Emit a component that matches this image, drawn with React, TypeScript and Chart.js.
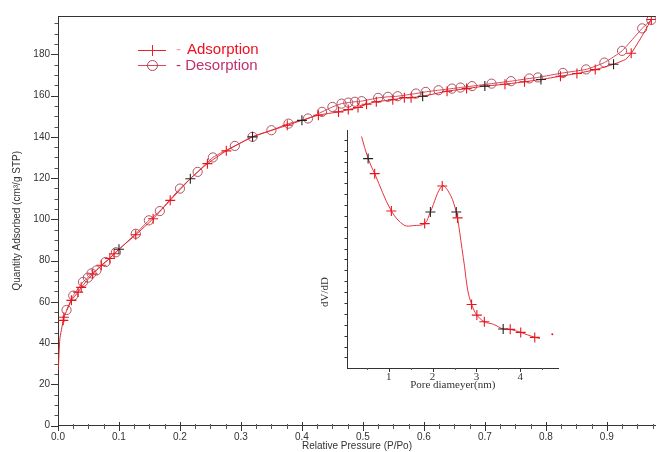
import React, { useEffect, useRef } from "react";
import { Chart, registerables } from "chart.js";
Chart.register(...registerables);

// ---- Main isotherm data ----
const adsX = [0.0005, 0.003, 0.0086, 0.0097, 0.022, 0.033, 0.038, 0.057, 0.071, 0.085, 0.092, 0.1, 0.1275, 0.156, 0.184, 0.217, 0.245, 0.276, 0.319, 0.376, 0.4, 0.427, 0.46, 0.476, 0.492, 0.506, 0.522, 0.549, 0.568, 0.579, 0.598, 0.638, 0.67, 0.7, 0.733, 0.765, 0.792, 0.824, 0.851, 0.881, 0.911, 0.931, 0.94, 0.957, 0.973];
const adsY = [27, 42, 51, 52.5, 60.7, 64.7, 67, 73.5, 77.7, 81, 83.3, 85.5, 92.5, 100.3, 109.2, 119.7, 127, 133.2, 140, 145.6, 148, 150.5, 152.1, 153.2, 154.2, 155.8, 157, 158, 159, 159, 159.7, 162.1, 163.4, 164.6, 165.5, 166.7, 167.8, 169.4, 170.7, 172.6, 175.2, 177.6, 180.5, 188.5, 196.9];
const adsBlack = [0.1, 0.217, 0.319, 0.4, 0.598, 0.7, 0.792, 0.911];
const adsNoMarker = [0.0005, 0.003, 0.931, 0.957];

const desX = [0.973, 0.958, 0.925, 0.896, 0.866, 0.828, 0.787, 0.773, 0.743, 0.711, 0.679, 0.66, 0.646, 0.624, 0.603, 0.587, 0.557, 0.541, 0.525, 0.498, 0.487, 0.476, 0.465, 0.45, 0.433, 0.41, 0.378, 0.35, 0.319, 0.29, 0.254, 0.229, 0.2, 0.167, 0.149, 0.1275, 0.095, 0.078, 0.063, 0.055, 0.049, 0.041, 0.025, 0.014];
const desY = [196.7, 192.6, 181.7, 176, 172.7, 171, 168.8, 168.3, 167, 165.8, 164.6, 163.9, 163.4, 162.6, 161.8, 161, 159.7, 159.4, 158.9, 157.3, 157, 156.6, 156.1, 154.5, 152.1, 148.9, 146.4, 143.2, 140, 135.6, 130, 123, 114.9, 104, 99.5, 93, 84, 79.3, 75.2, 73.8, 71.7, 69.6, 63, 56];

const mainXTicks = [0, 0.1, 0.2, 0.3, 0.4, 0.5, 0.6, 0.7, 0.8, 0.9];
const mainYTicks = [0, 20, 40, 60, 80, 100, 120, 140, 160, 180];

// ---- Inset pore-size distribution data ----
const poreX = [0.38, 0.53, 0.68, 1.06, 1.35, 1.57, 1.82, 1.95, 2.22, 2.41, 2.54, 2.57, 2.67, 2.73, 2.8, 2.89, 3.01, 3.18, 3.39, 3.61, 3.77, 4.01, 4.33, 4.45];
const poreY = [21.3, 19.27, 17.89, 14.46, 13.15, 13.12, 13.3, 14.37, 16.76, 15.9, 14.37, 13.82, 11.01, 9.33, 7.19, 5.87, 4.89, 4.28, 4.04, 3.61, 3.58, 3.3, 2.84, 2.75];
const poreMark = [0, 1, 2, 2, 0, 0, 2, 1, 2, 0, 1, 2, 0, 0, 0, 2, 2, 2, 0, 1, 2, 2, 2, 0];
const poreDotX = [4.73];
const poreDotY = [3.12];
const insetXTicks = [1, 2, 3, 4];

const SANS = "'Liberation Sans', Arial, Helvetica, sans-serif";
const SERIF = "'Liberation Serif', 'Times New Roman', serif";

function drawTicks(chart: any, scaleId: string, values: number[], inner: number, outer: number, color: string) {
  const ctx = chart.ctx;
  const scale = chart.scales[scaleId];
  ctx.save();
  ctx.strokeStyle = color;
  ctx.lineWidth = 1;
  for (const v of values) {
    const p = Math.round(scale.getPixelForValue(v)) + 0.5;
    ctx.beginPath();
    if (scale.isHorizontal()) {
      const y = Math.round(scale.top);
      ctx.moveTo(p, y - inner);
      ctx.lineTo(p, y + outer);
    } else {
      const x = Math.round(scale.right);
      ctx.moveTo(x - outer, p);
      ctx.lineTo(x + inner, p);
    }
    ctx.stroke();
  }
  ctx.restore();
}

export default function App() {
  const mainRef = useRef<HTMLCanvasElement>(null);
  const insetRef = useRef<HTMLCanvasElement>(null);

  useEffect(() => {
    const adsColors = adsX.map((x) => (adsBlack.includes(x) ? "#222" : "#e8141c"));
    const adsRadius = adsX.map((x) => (adsNoMarker.includes(x) ? 0 : 5));
    const xMinor: number[] = [];
    for (let i = 0; i <= 39; i++) {
      if (i % 4 !== 0) xMinor.push(i * 0.025);
    }
    const yMinor: number[] = [];
    for (let i = 0; i <= 39; i++) {
      if (i % 4 !== 0) yMinor.push(i * 5);
    }

    const mainPlugin = {
      id: "mainDecor",
      afterDraw(chart: any) {
        const ctx = chart.ctx;
        const a = chart.chartArea;
        ctx.save();
        ctx.strokeStyle = "#333";
        ctx.lineWidth = 1;
        ctx.beginPath();
        ctx.moveTo(a.left, Math.round(a.top) + 0.5);
        ctx.lineTo(a.right, Math.round(a.top) + 0.5);
        ctx.stroke();
        ctx.restore();
        drawTicks(chart, "x", mainXTicks, 4, 5, "#333");
        drawTicks(chart, "x", xMinor, 2, 3, "#555");
        drawTicks(chart, "y", mainYTicks, 0, 7, "#333");
        drawTicks(chart, "y", yMinor, 0, 3.5, "#555");
        // legend
        ctx.save();
        const ds0 = chart.data.datasets[0];
        const ds1 = chart.data.datasets[1];
        ctx.lineWidth = 1;
        ctx.strokeStyle = ds0.borderColor;
        ctx.beginPath();
        ctx.moveTo(138, 50.5);
        ctx.lineTo(166, 50.5);
        ctx.stroke();
        ctx.beginPath();
        ctx.moveTo(152.5, 45);
        ctx.lineTo(152.5, 56);
        ctx.stroke();
        ctx.strokeStyle = ds1.borderColor;
        ctx.beginPath();
        ctx.moveTo(138, 65.5);
        ctx.lineTo(166, 65.5);
        ctx.stroke();
        ctx.strokeStyle = "#a84a5a";
        ctx.beginPath();
        ctx.arc(152.5, 65.5, 5, 0, Math.PI * 2);
        ctx.stroke();
        ctx.font = "15px " + SANS;
        ctx.textBaseline = "middle";
        ctx.fillStyle = "#f2a0a4";
        ctx.fillText("-", 176, 50);
        ctx.fillStyle = "#ee1020";
        ctx.fillText(ds0.label, 187, 50);
        ctx.fillStyle = "#c0306a";
        ctx.fillText("- " + ds1.label, 176, 65.5);
        ctx.restore();
      },
    };

    const main = new Chart(mainRef.current!, {
      type: "scatter",
      data: {
        datasets: [
          {
            label: "Adsorption",
            data: adsX.map((x, i) => ({ x, y: adsY[i] })),
            showLine: true,
            borderColor: "#e3262e",
            borderWidth: 1,
            tension: 0.15,
            pointStyle: "cross",
            pointRadius: adsRadius,
            pointBorderWidth: 1.1,
            pointBorderColor: adsColors,
            pointBackgroundColor: adsColors,
          },
          {
            label: "Desorption",
            data: desX.map((x, i) => ({ x, y: desY[i] })),
            showLine: true,
            borderColor: "#d9475a",
            borderWidth: 1,
            tension: 0.15,
            pointStyle: "circle",
            pointRadius: 4.6,
            pointBorderWidth: 1,
            pointBorderColor: "#b05262",
            pointBackgroundColor: "rgba(0,0,0,0)",
          },
        ],
      },
      options: {
        animation: false,
        responsive: false,
        layout: { padding: { top: 16, right: 0, left: 0, bottom: 0 } },
        plugins: { legend: { display: false }, tooltip: { enabled: false } },
        scales: {
          x: {
            type: "linear",
            min: 0,
            max: 0.9805,
            afterBuildTicks: (s: any) => {
              s.ticks = mainXTicks.map((v) => ({ value: v }));
            },
            afterFit: (s: any) => {
              s.height = 26.5;
            },
            ticks: {
              callback: (v: any) => Number(v).toFixed(1),
              font: { family: SANS, size: 10, lineHeight: 1.2 },
              color: "#333",
              padding: 6,
              maxRotation: 0,
              autoSkip: false,
            },
            grid: { drawOnChartArea: false, drawTicks: false },
            border: { color: "#333", width: 1 },
            title: {
              display: true,
              text: "Relative Pressure (P/Po)",
              font: { family: SANS, size: 10, lineHeight: 1.2 },
              color: "#333",
              padding: { top: 0, bottom: 0 },
            },
          },
          y: {
            type: "linear",
            min: 0,
            max: 198.6,
            afterBuildTicks: (s: any) => {
              s.ticks = mainYTicks.map((v) => ({ value: v }));
            },
            afterFit: (s: any) => {
              s.width = 58;
            },
            ticks: {
              font: { family: SANS, size: 10, lineHeight: 1.2 },
              color: "#333",
              padding: 8,
              autoSkip: false,
            },
            grid: { drawOnChartArea: false, drawTicks: false },
            border: { color: "#333", width: 1 },
            title: {
              display: true,
              text: "Quantity Adsorbed (cm³/g STP)",
              font: { family: SANS, size: 10, lineHeight: 1.2 },
              color: "#333",
              padding: { top: 11.5, bottom: 0 },
            },
          },
        },
      },
      plugins: [mainPlugin],
    } as any);

    const insetXMinor = [0.5, 1.5, 2.5, 3.5, 4.5];
    const insetYTicks: number[] = [];
    for (let i = 1; i <= 21; i++) insetYTicks.push(i);

    const insetPlugin = {
      id: "insetDecor",
      afterDraw(chart: any) {
        drawTicks(chart, "x", insetXTicks, 0, 4, "#333");
        drawTicks(chart, "x", insetXMinor, 0, 2, "#555");
        drawTicks(chart, "y", insetYTicks, 0, 3.5, "#333");
        const ctx = chart.ctx;
        ctx.save();
        ctx.font = "11px " + SERIF;
        ctx.fillStyle = "#333";
        ctx.textAlign = "center";
        ctx.textBaseline = "middle";
        ctx.translate(25, 172);
        ctx.rotate(-Math.PI / 2);
        ctx.fillText("dV/dD", 0, 0);
        ctx.restore();
      },
    };

    const poreColors = poreMark.map((m) => (m === 1 ? "#222" : "#e8141c"));
    const inset = new Chart(insetRef.current!, {
      type: "scatter",
      data: {
        datasets: [
          {
            label: "PSD",
            data: poreX.map((x, i) => ({ x, y: poreY[i] })),
            showLine: true,
            borderColor: "#e8343c",
            borderWidth: 1,
            tension: 0.35,
            pointStyle: "cross",
            pointRadius: poreMark.map((m) => (m ? 5 : 0)),
            pointBorderWidth: 1.1,
            pointBorderColor: poreColors,
            pointBackgroundColor: poreColors,
          },
          {
            label: "dot",
            data: poreDotX.map((x, i) => ({ x, y: poreDotY[i] })),
            showLine: false,
            pointStyle: "circle",
            pointRadius: 1,
            pointBorderWidth: 0,
            pointBackgroundColor: "#e8141c",
          },
        ],
      },
      options: {
        animation: false,
        responsive: false,
        layout: { padding: { top: 10, right: 12, left: 0, bottom: 0 } },
        plugins: { legend: { display: false }, tooltip: { enabled: false } },
        scales: {
          x: {
            type: "linear",
            min: 0.06,
            max: 4.86,
            afterBuildTicks: (s: any) => {
              s.ticks = insetXTicks.map((v) => ({ value: v }));
            },
            afterFit: (s: any) => {
              s.height = 36.7;
            },
            ticks: {
              font: { family: SERIF, size: 11, lineHeight: 1 },
              color: "#333",
              padding: 3,
              maxRotation: 0,
              autoSkip: false,
            },
            grid: { drawOnChartArea: false, drawTicks: false },
            border: { color: "#333", width: 1 },
            title: {
              display: true,
              text: "Pore diameyer(nm)",
              font: { family: SERIF, size: 11, lineHeight: 1.2 },
              color: "#333",
              padding: { top: 0, bottom: 13.4 },
            },
          },
          y: {
            type: "linear",
            min: 0,
            max: 21.9,
            afterFit: (s: any) => {
              s.width = 47.5;
            },
            ticks: { display: false },
            grid: { drawOnChartArea: false, drawTicks: false },
            border: { color: "#333", width: 1 },
          },
        },
      },
      plugins: [insetPlugin],
    } as any);

    return () => {
      main.destroy();
      inset.destroy();
    };
  }, []);

  return (
    <div style={{ position: "absolute", left: 0, top: 0, width: 662, height: 452, overflow: "hidden", background: "#fff" }}>
      <canvas ref={mainRef} width={662} height={452} style={{ position: "absolute", left: 0, top: 0 }} />
      <canvas ref={insetRef} width={270} height={285} style={{ position: "absolute", left: 300, top: 120 }} />
    </div>
  );
}
